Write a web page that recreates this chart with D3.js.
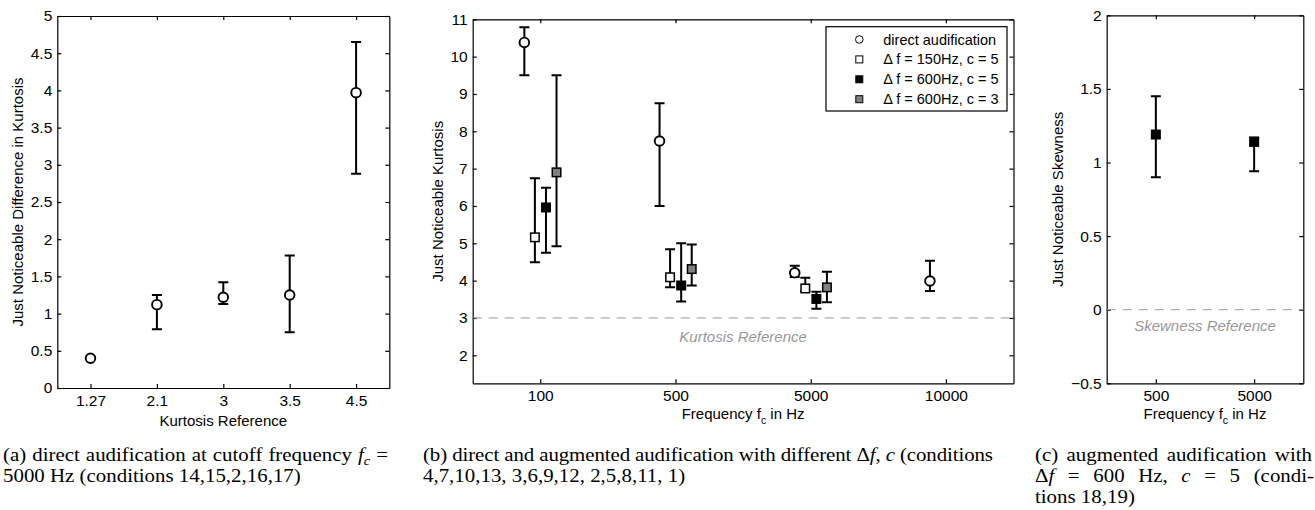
<!DOCTYPE html>
<html>
<head>
  <title>Just noticeable kurtosis and skewness</title>
  <meta charset="utf8">
  <style type="text/css">
    body { margin: 0; background: #fff; }
    svg { display: block; }
    .axis text { font-family: "Liberation Sans", Arial, sans-serif; font-size: 15.5px; fill: #000; }
    .axis path, .axis line { stroke: #000; stroke-width: 1.2; }
    .label { font-family: "Liberation Sans", Arial, sans-serif; font-size: 15px; fill: #000; }
    .ref { font-family: "Liberation Sans", Arial, sans-serif; font-size: 15px; font-style: italic; fill: #999; }
    .legend text { font-family: "Liberation Sans", Arial, sans-serif; font-size: 14.5px; fill: #000; }
    .caption { font-family: "Liberation Serif", "Times New Roman", serif; font-size: 19px; fill: #000; }
    .it { font-style: italic; }
  </style>
</head>
<body>

<script src="https://cdn.jsdelivr.net/npm/d3@7"></script>

<script type="text/javascript">

// (a) direct audification at fc = 5000 Hz
var kurtRefLabels = ['1.27', '2.1', '3', '3.5', '4.5']
var kurtYTicks = [0, 0.5, 1, 1.5, 2, 2.5, 3, 3.5, 4, 4.5, 5]
var jndMean = [0.40, 1.12, 1.22, 1.25, 3.97]
var jndLo   = [0.40, 0.79, 1.13, 0.75, 2.88]
var jndHi   = [0.40, 1.25, 1.42, 1.78, 4.65]

// (b) direct and augmented audification
var freqLabels = ['100', '500', '5000', '10000']
var freqYTicks = [2, 3, 4, 5, 6, 7, 8, 9, 10, 11]
var seriesNames = ['direct audification', '\u0394 f = 150Hz, c = 5', '\u0394 f = 600Hz, c = 5', '\u0394 f = 600Hz, c = 3']
var directMean = [10.38, 7.74, 4.21, 3.99]
var directLo   = [9.50, 6.00, 4.10, 3.72]
var directHi   = [10.79, 8.75, 4.40, 4.53]
var df150c5Mean = [5.16, 4.09, 3.79, null]
var df150c5Lo   = [4.49, 3.82, 3.72, null]
var df150c5Hi   = [6.74, 4.84, 4.08, null]
var df600c5Mean = [5.96, 3.87, 3.51, null]
var df600c5Lo   = [4.75, 3.44, 3.25, null]
var df600c5Hi   = [6.49, 5.00, 3.70, null]
var df600c3Mean = [6.90, 4.31, 3.82, null]
var df600c3Lo   = [4.92, 3.87, 3.42, null]
var df600c3Hi   = [9.50, 4.97, 4.24, null]

// (c) skewness, df = 600 Hz, c = 5
var skewFreqLabels = ['500', '5000']
var skewYTicks = [-0.5, 0, 0.5, 1, 1.5, 2]
var skewMean = [1.19, 1.14]
var skewLo   = [0.90, 0.94]
var skewHi   = [1.45, 1.17]

var svg = d3.select('body').append('svg')
    .attr('width', 1315)
    .attr('height', 510)

var fmt = d3.format('~g')
var cap = 5
// caption lines are a little wider than the font, as in the scanned figure
var sx = 1.1

panel({
  left: 57.3, right: 389.3, top: 16, bottom: 388,
  ticks: kurtRefLabels, ydomain: [0, 5], yticks: kurtYTicks,
  ylabel: 'Just Noticeable Difference in Kurtosis', ylabelX: 17.5,
  xlabel: ['Kurtosis Reference'], xlabelY: 426,
  series: [
    {mean: jndMean, lo: jndLo, hi: jndHi, offset: 0, shape: 'circle', fill: '#fff'}
  ]
})

panel({
  left: 472.7, right: 1013.5, top: 19.3, bottom: 383.3,
  ticks: freqLabels, ydomain: [1.25, 11], yticks: freqYTicks,
  ylabel: 'Just Noticeable Kurtosis', ylabelX: 437.3,
  xlabel: ['Frequency f', 'c', ' in Hz'], xlabelY: 419,
  ref: 3, refText: 'Kurtosis Reference', refDy: 23.7,
  legend: true,
  series: [
    {mean: directMean, lo: directLo, hi: directHi, offset: -0.118, shape: 'circle', fill: '#fff'},
    {mean: df150c5Mean, lo: df150c5Lo, hi: df150c5Hi, offset: -0.04, shape: 'square', fill: '#fff'},
    {mean: df600c5Mean, lo: df600c5Lo, hi: df600c5Hi, offset: 0.042, shape: 'square', fill: '#000'},
    {mean: df600c3Mean, lo: df600c3Lo, hi: df600c3Hi, offset: 0.12, shape: 'square', fill: '#808080'}
  ]
})

panel({
  left: 1106.7, right: 1303.3, top: 15.3, bottom: 383.3,
  ticks: skewFreqLabels, ydomain: [-0.5, 2], yticks: skewYTicks,
  ylabel: 'Just Noticeable Skewness', ylabelX: 1058,
  xlabel: ['Frequency f', 'c', ' in Hz'], xlabelY: 419,
  ref: 0, refText: 'Skewness Reference', refDy: 21,
  series: [
    {mean: skewMean, lo: skewLo, hi: skewHi, offset: 0, shape: 'square', fill: '#000'}
  ]
})

captions()


function panel(o) {
  var g = svg.append('g')
  var n = o.ticks.length
  var x = d3.scaleLinear().domain([0.5, n + 0.5]).range([o.left, o.right])
  var y = d3.scaleLinear().domain(o.ydomain).range([o.bottom, o.top])
  var xv = d3.range(1, n + 1)

  g.append('g').attr('class', 'axis')
    .attr('transform', 'translate(0,' + o.bottom + ')')
    .call(d3.axisBottom(x).tickValues(xv)
      .tickFormat(function(d) { return o.ticks[d - 1] })
      .tickSizeInner(-4).tickSizeOuter(0).tickPadding(7))

  g.append('g').attr('class', 'axis')
    .attr('transform', 'translate(0,' + o.top + ')')
    .call(d3.axisTop(x).tickValues(xv).tickFormat('')
      .tickSizeInner(-4).tickSizeOuter(0))

  g.append('g').attr('class', 'axis')
    .attr('transform', 'translate(' + o.left + ',0)')
    .call(d3.axisLeft(y).tickValues(o.yticks).tickFormat(fmt)
      .tickSizeInner(-4).tickSizeOuter(0).tickPadding(5))

  g.append('g').attr('class', 'axis')
    .attr('transform', 'translate(' + o.right + ',0)')
    .call(d3.axisRight(y).tickValues(o.yticks).tickFormat('')
      .tickSizeInner(-4).tickSizeOuter(0))

  // axis labels
  g.append('text')
    .attr('class', 'label')
    .attr('text-anchor', 'middle')
    .attr('dy', '0.35em')
    .attr('transform', 'translate(' + o.ylabelX + ',' + (o.top + o.bottom) / 2 + ') rotate(-90)')
    .text(o.ylabel)

  var xl = g.append('text')
    .attr('class', 'label')
    .attr('text-anchor', 'middle')
    .attr('x', (o.left + o.right) / 2)
    .attr('y', o.xlabelY)
  xl.append('tspan').text(o.xlabel[0])
  if (o.xlabel.length > 1) {
    xl.append('tspan').attr('dy', 5).attr('font-size', '10.5px').text(o.xlabel[1])
    xl.append('tspan').attr('dy', -5).text(o.xlabel[2])
  }

  if (o.ref != null) {
    g.append('line')
      .attr('x1', o.left).attr('x2', o.right)
      .attr('y1', y(o.ref)).attr('y2', y(o.ref))
      .attr('stroke', '#999')
      .attr('stroke-dasharray', '9,7')
    g.append('text')
      .attr('class', 'ref')
      .attr('text-anchor', 'middle')
      .attr('x', (o.left + o.right) / 2)
      .attr('y', y(o.ref) + o.refDy)
      .text(o.refText)
  }

  o.series.forEach(function(s) {
    var pts = s.mean.map(function(m, i) {
      return {x: x(i + 1 + s.offset), m: m, lo: s.lo[i], hi: s.hi[i]}
    }).filter(function(d) { return d.m != null })

    g.append('g')
      .attr('stroke', '#000')
      .attr('stroke-width', 2)
      .attr('fill', 'none')
      .selectAll('path')
      .data(pts.filter(function(d) { return d.hi - d.lo > 0.02 }))
      .enter()
      .append('path')
      .attr('d', function(d) {
        return 'M' + d.x + ',' + y(d.lo) + 'V' + y(d.hi) +
          'M' + (d.x - cap) + ',' + y(d.hi) + 'H' + (d.x + cap) +
          'M' + (d.x - cap) + ',' + y(d.lo) + 'H' + (d.x + cap)
      })

    var mk = g.append('g').selectAll('.mk').data(pts).enter()
    marker(mk, s, function(d) { return d.x }, function(d) { return y(d.m) })
  })

  if (o.legend) {
    var lw = 181, lh = 84.3
    var lx = o.right - 6.5 - lw, ly = o.top + 7.4
    var lg = g.append('g').attr('class', 'legend')
    lg.append('rect')
      .attr('x', lx).attr('y', ly)
      .attr('width', lw).attr('height', lh)
      .attr('fill', '#fff').attr('stroke', '#000').attr('stroke-width', 1.2)
    var row = lg.selectAll('.row').data(o.series).enter()
    marker(row, {shape: null}, function() { return lx + 33.3 },
      function(d, i) { return ly + 12.8 + i * 19.9 }, true)
    row.append('text')
      .attr('x', lx + 57.3)
      .attr('y', function(d, i) { return ly + 12.8 + i * 19.9 })
      .attr('dy', '0.35em')
      .text(function(d, i) { return seriesNames[i] })
  }
}

function marker(sel, s, fx, fy, small) {
  sel.each(function(d, i) {
    var st = s.shape ? s : d
    var el = d3.select(this)
    var px = fx(d, i), py = fy(d, i)
    if (st.shape === 'circle') {
      el.append('circle')
        .attr('cx', px).attr('cy', py)
        .attr('r', small ? 3.8 : 4.8)
        .attr('fill', st.fill)
        .attr('stroke', '#000')
        .attr('stroke-width', small ? 1 : 1.9)
    } else {
      var w = small ? 7 : 8.5
      el.append('rect')
        .attr('x', px - w / 2).attr('y', py - w / 2)
        .attr('width', w).attr('height', w)
        .attr('fill', st.fill)
        .attr('stroke', '#000')
        .attr('stroke-width', small ? 1 : 1.5)
    }
  })
}

function line(c, x, y) {
  return c.append('text')
    .attr('transform', 'translate(' + x + ',' + y + ') scale(' + sx + ',1)')
}

// make a line fill the given width: widen the word gaps, or squeeze it
function justify(t, width) {
  var w = width / sx
  var node = t.node()
  var natural = node.getComputedTextLength()
  var spaces = (node.textContent.match(/ /g) || []).length
  if (natural > w) {
    t.attr('textLength', w).attr('lengthAdjust', 'spacing')
  } else if (spaces) {
    t.style('word-spacing', ((w - natural) / spaces) + 'px')
  }
}

function captions() {
  var c = svg.append('g').attr('class', 'caption')
  var l1 = 460.5, l2 = 481.5, l3 = 502.5

  var a1 = line(c, 3, l1)
  a1.append('tspan').text('(a) direct audification at cutoff frequency ')
  a1.append('tspan').attr('class', 'it').text('f')
  a1.append('tspan').attr('class', 'it').attr('dy', 4).attr('font-size', '13px').text('c')
  a1.append('tspan').attr('dy', -4).text(' =')
  justify(a1, 385)
  line(c, 3, l2).text('5000 Hz (conditions 14,15,2,16,17)')

  var b1 = line(c, 423, l1)
  b1.append('tspan').text('(b) direct and augmented audification with different \u0394')
  b1.append('tspan').attr('class', 'it').text('f')
  b1.append('tspan').text(', ')
  b1.append('tspan').attr('class', 'it').text('c')
  b1.append('tspan').text(' (conditions')
  justify(b1, 570)
  line(c, 423, l2).text('4,7,10,13, 3,6,9,12, 2,5,8,11, 1)')

  var c1 = line(c, 1035, l1).text('(c) augmented audification with')
  justify(c1, 277)
  var c2 = line(c, 1035, l2)
  c2.append('tspan').text('\u0394')
  c2.append('tspan').attr('class', 'it').text('f')
  c2.append('tspan').text(' = 600 Hz, ')
  c2.append('tspan').attr('class', 'it').text('c')
  c2.append('tspan').text(' = 5 (condi-')
  justify(c2, 279)
  line(c, 1035, l3).text('tions 18,19)')
}

</script>

</body>
</html>
